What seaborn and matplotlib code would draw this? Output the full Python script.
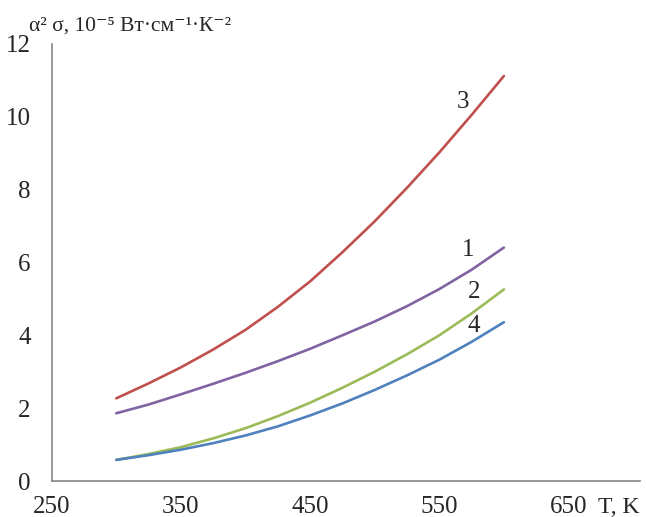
import pandas as pd
import matplotlib
matplotlib.use("Agg")
import matplotlib.pyplot as plt
import seaborn as sns

# temperatures, K
T = [300, 325, 350, 375, 400, 425, 450, 475, 500, 525, 550, 575, 600]

# power factor, 10^-5 W/(cm K^2)
curve_1 = [1.86, 2.10, 2.38, 2.67, 2.97, 3.29, 3.63, 4.00, 4.38, 4.80, 5.27, 5.80, 6.41]
curve_2 = [0.58, 0.74, 0.93, 1.17, 1.45, 1.78, 2.15, 2.56, 3.00, 3.48, 4.00, 4.60, 5.26]
curve_3 = [2.27, 2.68, 3.12, 3.61, 4.15, 4.78, 5.48, 6.28, 7.13, 8.05, 9.02, 10.05, 11.12]
curve_4 = [0.58, 0.71, 0.86, 1.04, 1.25, 1.50, 1.80, 2.13, 2.50, 2.90, 3.33, 3.82, 4.36]

names = ["1", "2", "3", "4"]
colors = {"1": "#8064A2", "2": "#9BBB59", "3": "#C0504D", "4": "#4F81BD"}

x_ticks = [250, 350, 450, 550, 650]
y_ticks = [0, 2, 4, 6, 8, 10, 12]

# where the curve numbers sit (T, value)
label_pos = {"3": (568, 10.4), "1": (572, 6.35), "2": (577, 5.2), "4": (577, 4.25)}

rows = []
for name, vals in zip(names, [curve_1, curve_2, curve_3, curve_4]):
    for t, v in zip(T, vals):
        rows.append({"T": t, "val": v, "curve": name})
df = pd.DataFrame(rows)

sns.set_style("white")
plt.rcParams["font.family"] = ["Liberation Serif", "DejaVu Serif"]

fig = plt.figure(figsize=(6.46, 5.17), dpi=100)
ax = fig.add_axes([0.08, 0.0696, 0.91, 0.8454])

sns.lineplot(data=df, x="T", y="val", hue="curve", palette=colors,
             linewidth=1.9, legend=False, ax=ax)

ax.set_xlim(250, 705)
ax.set_ylim(0, 12)
ax.set_xticks(x_ticks)
ax.set_yticks(y_ticks)
ax.tick_params(axis="both", labelsize=18, width=1, color="#868686",
               direction="out")
ax.tick_params(axis="y", length=5, pad=10)
ax.tick_params(axis="x", length=4, pad=7)
for side in ["top", "right"]:
    ax.spines[side].set_visible(False)
for side in ["left", "bottom"]:
    ax.spines[side].set_color("#868686")
    ax.spines[side].set_linewidth(1.2)
ax.set_xlabel("")
ax.set_ylabel("")

for name, (tx, ty) in label_pos.items():
    ax.text(tx, ty, name, fontsize=18, ha="center", va="center")

fig.text(0.045, 0.95, "α² σ, 10⁻⁵ Вт·см⁻¹·К⁻²", fontsize=15.5, ha="left", va="center")
fig.text(0.925, 0.018, "T, K", fontsize=17, ha="left", va="center")

fig.savefig("out.png", dpi=100)
